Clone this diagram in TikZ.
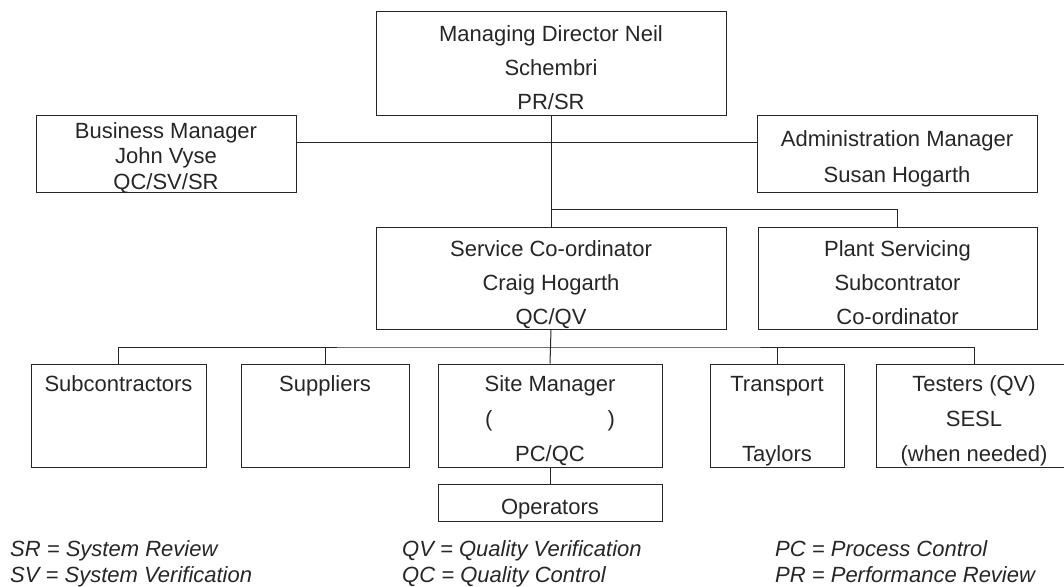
\documentclass[tikz,border=0pt]{standalone}
\usepackage{fontspec}
\setmainfont{Liberation Sans}
\begin{document}
\begin{tikzpicture}[
    x=1pt, y=-1pt,
    box/.style={draw=black!85, line width=1pt, inner sep=0pt, align=center,
                text=black!85, text height=92pt, text depth=0pt,
                font=\fontsize{22}{34}\selectfont},
    low/.style={box, minimum height=103pt, text height=92pt,
                font=\fontsize{22}{35}\selectfont},
    link/.style={draw=black!85, line width=1pt},
    key/.style={anchor=base west, inner sep=0pt, text=black!85,
                font=\fontsize{22}{26}\selectfont\itshape}
  ]
  \useasboundingbox (0,0) rectangle (1064,586);
  \clip (0,0) rectangle (1064,586);

  % top levels
  \node[box, minimum width=350pt, minimum height=103pt] (md) at (551,63.5)
    {Managing Director Neil\\Schembri\\PR/SR};
  \node[box, minimum width=260pt, minimum height=77pt, text height=71pt,
        font=\fontsize{22}{25.5}\selectfont] (bm) at (166,153.5)
    {Business Manager\\John Vyse\\QC/SV/SR};
  \node[box, minimum width=280pt, minimum height=77pt, text height=58pt,
        font=\fontsize{22}{36}\selectfont] (adm) at (897,153.5)
    {Administration Manager\\Susan Hogarth};
  \node[box, minimum width=350pt, minimum height=102pt] (svc) at (551,278)
    {Service Co-ordinator\\Craig Hogarth\\QC/QV};
  \node[box, minimum width=279pt, minimum height=102pt] (plant) at (897.5,278)
    {Plant Servicing\\Subcontrator\\Co-ordinator};

  % bottom row
  \node[low, minimum width=175pt] (subc) at (118.5,415.5) {Subcontractors\\~\\~};
  \node[low, minimum width=168pt] (supp) at (325,415.5) {Suppliers\\~\\~};
  \node[low, minimum width=224pt] (site) at (550,415.5)
    {Site Manager\\(\hspace{115pt})\\PC/QC};
  \node[low, minimum width=134pt] (trans) at (777,415.5) {Transport\\~\\Taylors};
  \node[low, minimum width=196pt] (test) at (974,415.5)
    {Testers (QV)\\SESL\\(when needed)};
  \node[box, minimum width=224pt, minimum height=37pt, text height=24pt] (ops)
    at (550,502.5) {Operators};

  % connectors
  \coordinate (hub) at (551,142);
  \coordinate (split) at (551,209);
  \coordinate (fork) at (551,347);
  \draw[link] (md) -- (svc);
  \draw[link] (bm.east |- hub) -- (adm.west |- hub);
  \draw[link] (split) -| (plant.north);
  \draw[link] (svc.south) -- (site.north);
  \draw[link] (subc.north) |- (fork) -| (test.north);
  \foreach \n in {supp, trans}
    \draw[link] (\n.north) -- (\n.north |- fork);
  \draw[link] (site) -- (ops);

  % legend
  \node[key] (sr) at (10,556) {SR = System Review};
  \node[key] (sv) at (10,582) {SV = System Verification};
  \node[key] (qv) at (402,556) {QV = Quality Verification};
  \node[key] (qc) at (402,582) {QC = Quality Control};
  \node[key] (pc) at (775,556) {PC = Process Control};
  \node[key] (pr) at (775,582) {PR = Performance Review};
\end{tikzpicture}
\end{document}
